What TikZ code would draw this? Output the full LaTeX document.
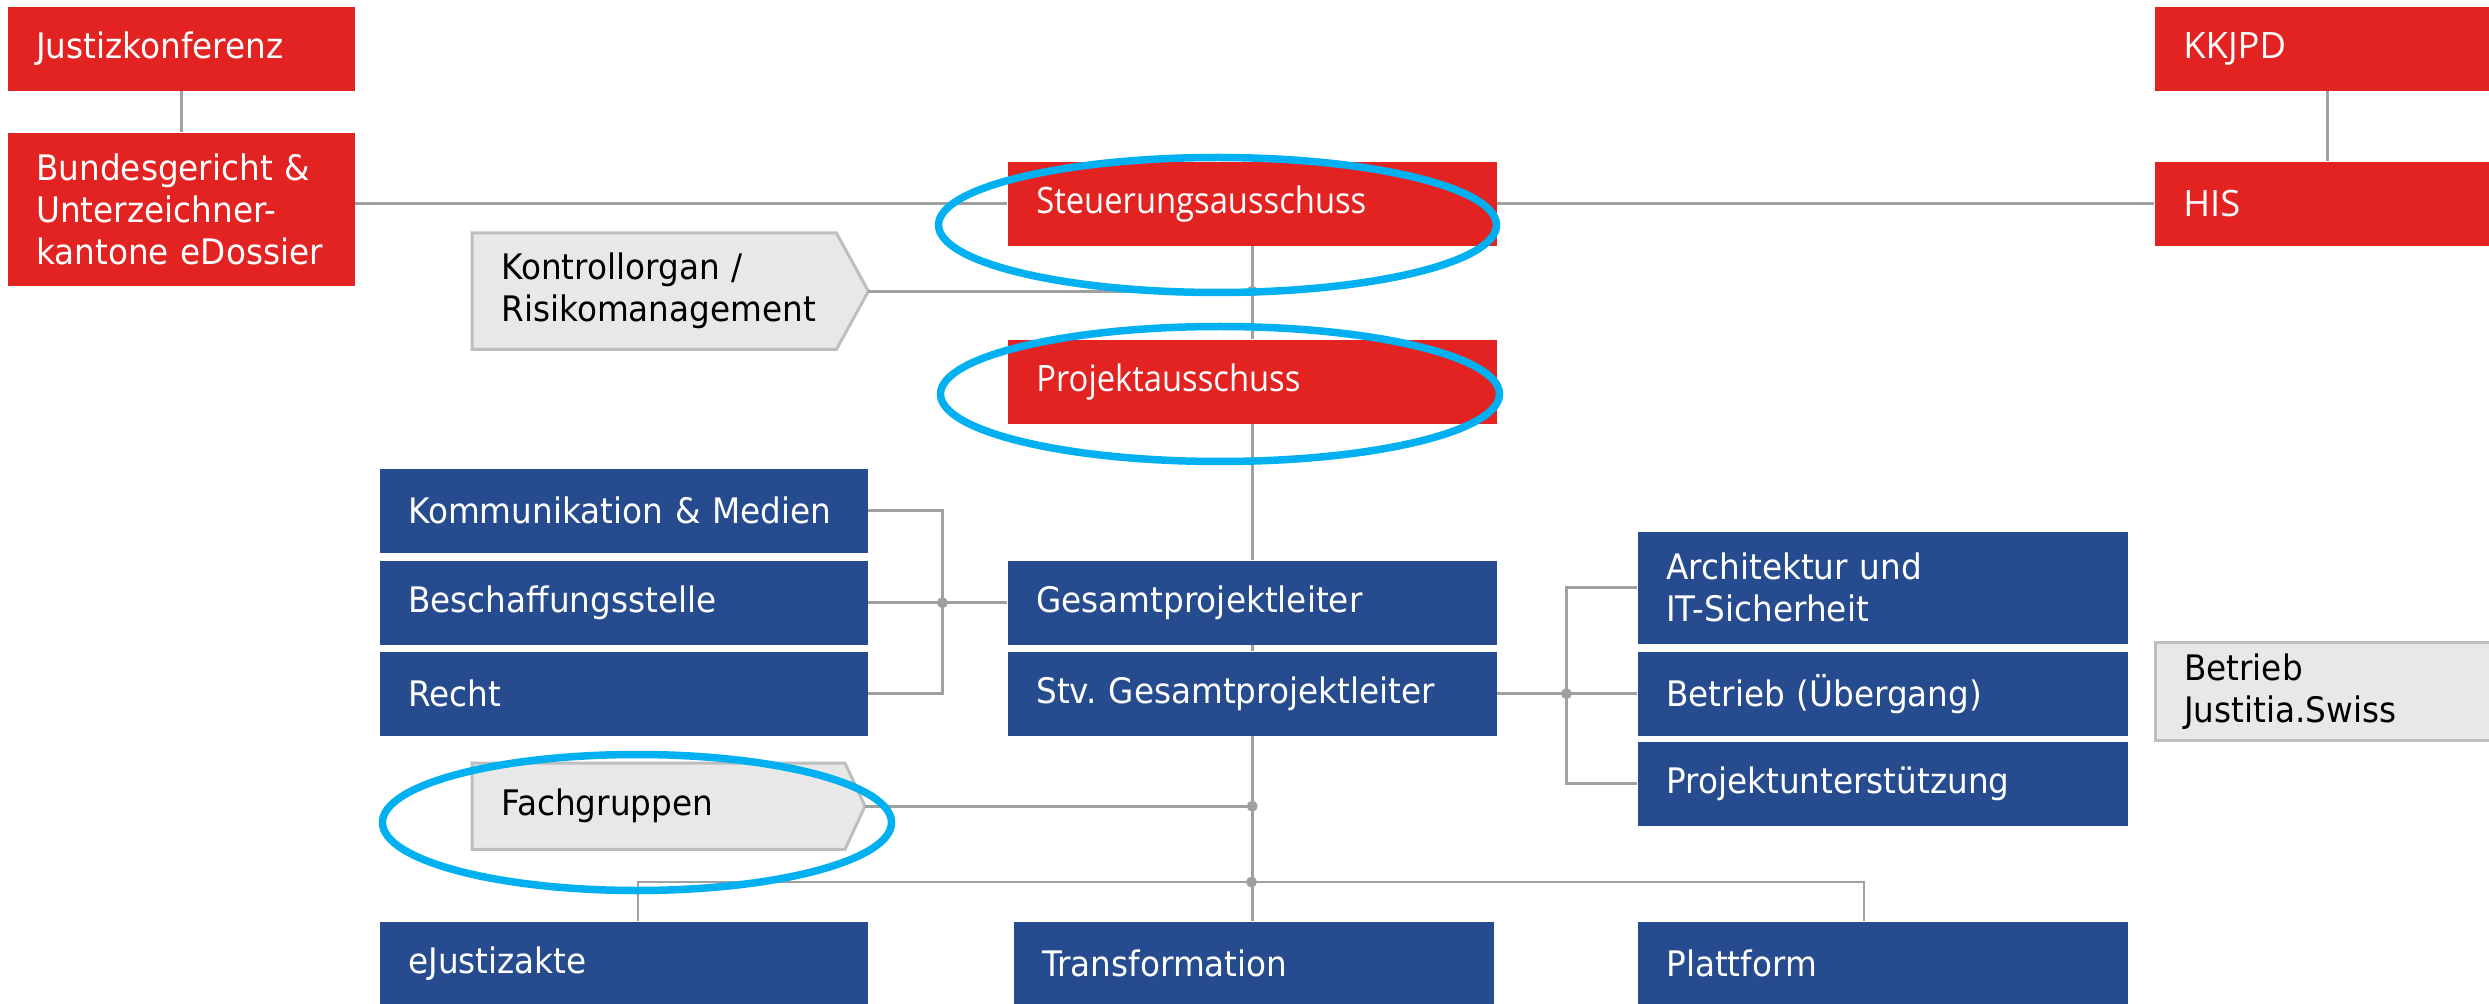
\documentclass[tikz,border=0pt]{standalone}
\usepackage{fontspec}
\setmainfont{DejaVu Sans}[FakeStretch=0.93]
\newfontfamily\redfont{Open Sans}[FakeStretch=0.9]
\newfontfamily\hisfont{Open Sans}
\frenchspacing
\usetikzlibrary{calc}
\pgfdeclarelayer{bg}
\pgfsetlayers{bg,main}
\definecolor{ered}{RGB}{227,35,34}
\definecolor{eblue}{RGB}{39,75,143}
\definecolor{egray}{RGB}{232,232,232}
\definecolor{eborder}{RGB}{190,190,190}
\definecolor{eline}{RGB}{160,160,160}
\definecolor{ecyan}{RGB}{0,176,240}
\tikzset{orgbox/.style = {rectangle, anchor=north west, inner xsep=2.86mm, inner ysep=0pt, align=left, minimum height=8.4mm, font=\fontsize{10}{12}\selectfont, text=white},
         redbox/.style = {orgbox, fill=ered},
         bluebox/.style = {orgbox, fill=eblue},
         graybox/.style = {orgbox, fill=egray, draw=eborder, line width=0.3mm, text=black},
         tagbox/.style = {orgbox, text=black},
         tag/.style = {fill=egray, draw=eborder, line width=0.3mm},
         link/.style = {draw=eline, line width=0.28mm},
         dot/.style = {circle, fill=eline, inner sep=0pt, minimum size=1.1mm},
         hilite/.style = {draw=ecyan, line width=0.75mm}}

\begin{document}
\begin{tikzpicture}[x=0.1mm, y=-0.1mm]
    \useasboundingbox (0,0) rectangle (2489,1004);
    % oben: Gremien
    \node[redbox, text width=28.98mm](justiz)at(7,6){Justizkonferenz};
    \node[redbox, text width=28.98mm, minimum height=15.3mm](bundes)at(7,132){Bundesgericht \&\\Unterzeichner-\\kantone eDossier};
    \node[redbox, text width=28.78mm, font=\hisfont\fontsize{10.35}{12}\selectfont](kkjpd)at(2154,6){KKJPD};
    \node[redbox, text width=28.78mm, font=\hisfont\fontsize{10.35}{12}\selectfont](his)at(2154,161){HIS};
    \node[redbox, text width=43.18mm, font=\redfont\fontsize{10.35}{12}\selectfont](steuer)at(1007,161){Steuerungsausschuss};
    \node[redbox, text width=43.18mm, font=\redfont\fontsize{10.35}{12}\selectfont](projekt)at(1007,339){Projektausschuss};
    \node[tagbox, text width=30.58mm, minimum height=11.5mm](kontroll)at(472,233){Kontrollorgan /\\Risikomanagement};
    % Projektleitung
    \node[bluebox, text width=43.08mm](komm)at(379,468){Kommunikation \& Medien};
    \node[bluebox, text width=43.08mm](besch)at(379,560){Beschaffungsstelle};
    \node[bluebox, text width=43.08mm](recht)at(379,651){Recht};
    \node[bluebox, text width=43.18mm](gesamt)at(1007,560){Gesamtprojektleiter};
    \node[bluebox, text width=43.18mm](stv)at(1007,651){Stv. Gesamtprojektleiter};
    \node[bluebox, text width=43.28mm, minimum height=11.2mm](archi)at(1637,531){Architektur und\\IT-Sicherheit};
    \node[bluebox, text width=43.28mm](betrieb)at(1637,651){Betrieb (Übergang)};
    \node[bluebox, text width=43.28mm](unterst)at(1637,741){Projektunterstützung};
    \node[graybox, text width=28.78mm, minimum height=9.8mm](justitia)at(2154,641){Betrieb\\Justitia.Swiss};
    \node[tagbox, text width=31.44mm, minimum height=8.5mm](fach)at(472,763){Fachgruppen};
    % Teilprojekte
    \node[bluebox, text width=43.08mm](ejust)at(379,921){eJustizakte};
    \node[bluebox, text width=42.28mm](transf)at(1013,921){Transformation};
    \node[bluebox, text width=43.28mm](platt)at(1637,921){Plattform};
    % Pfeilformen hinten
    \coordinate(ktip)at($(kontroll.east)+(32,0)$);
    \coordinate(ftip)at($(fach.east)+(20,0)$);
    \begin{pgfonlayer}{bg}
        \filldraw[tag](kontroll.north west)--(kontroll.north east)--(ktip)--(kontroll.south east)--(kontroll.south west)--cycle;
        \filldraw[tag](fach.north west)--(fach.north east)--(ftip)--(fach.south east)--(fach.south west)--cycle;
    \end{pgfonlayer}
    % Verbindungen
    \coordinate(jk)at(stv.south |- ktip);
    \coordinate(jf)at(stv.south |- ftip);
    \coordinate(jb)at(1251.5,882);
    \coordinate(bl)at(638,882);
    \coordinate(br)at(1864,882);
    \path(besch.east)++(74,0)coordinate(jl);
    \path(stv.east)++(69,0)coordinate(jr);
    \draw[link](justiz)--(bundes);
    \draw[link](kkjpd)--(his);
    \draw[link](bundes.east |- steuer.west)--(steuer.west);
    \draw[link](steuer.east)--(his.west);
    \draw[link](steuer)--(projekt);
    \draw[link](projekt)--(gesamt);
    \draw[link](gesamt)--(stv);
    \draw[link](stv.south)--(stv.south |- transf.north);
    \draw[link](ktip)--(jk);
    \draw[link](ftip)--(jf);
    \draw[link](komm.east)-|(jl)|-(recht.east);
    \draw[link](besch.east)--(gesamt.west);
    \draw[link](archi.west)-|(jr)|-(unterst.west);
    \draw[link](stv.east)--(betrieb.west);
    \draw[link](bl |- ejust.north)--(bl)--(br)--(br |- platt.north);
    \foreach \j in {jk,jf,jb,jl,jr}
        \node[dot](d\j)at(\j){};
    % Markierungen
    \draw[hilite](1217.5,225)ellipse[x radius=27.9mm, y radius=6.75mm];
    \draw[hilite](1220,394)ellipse[x radius=27.95mm, y radius=6.75mm];
    \draw[hilite](637,822.5)ellipse[x radius=25.45mm, y radius=6.8mm];
\end{tikzpicture}
\end{document}
